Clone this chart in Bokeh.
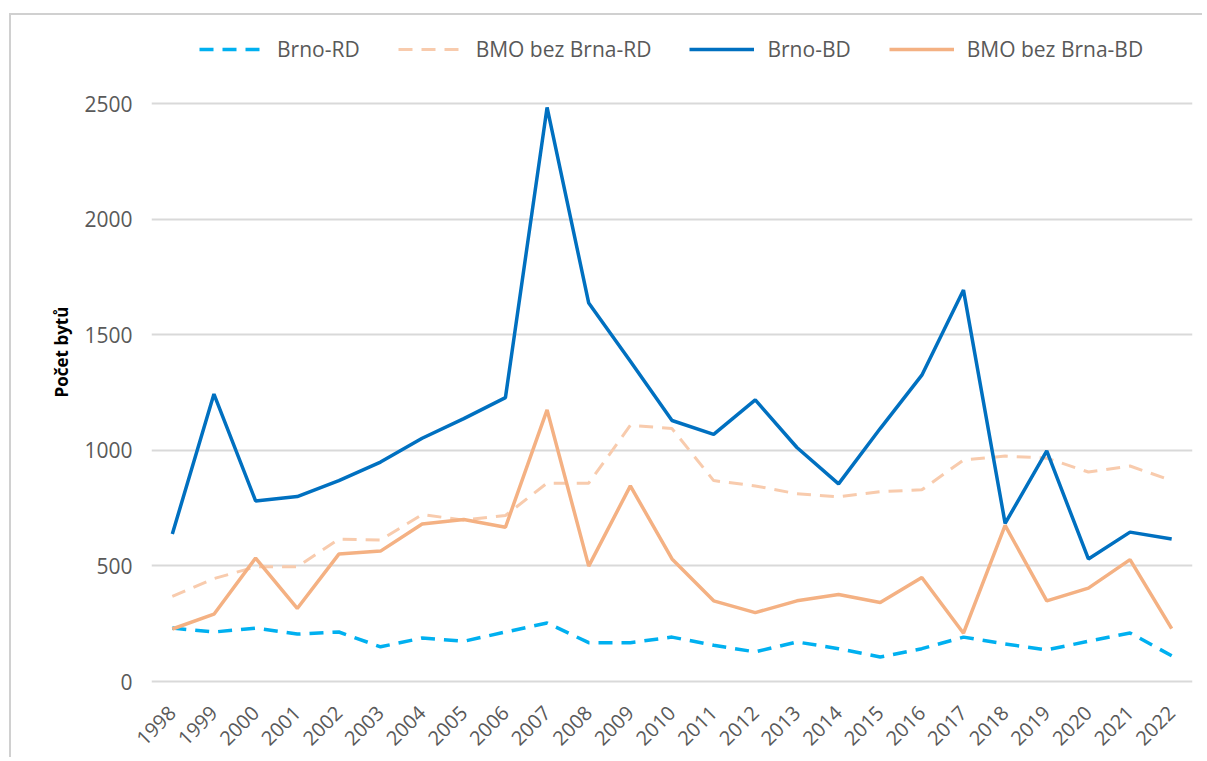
from bokeh.plotting import figure
from bokeh.models import Range1d, FixedTicker, Legend, LegendItem
from bokeh.embed import file_html
from bokeh.resources import INLINE

years = list(range(1998, 2023))
brno_rd = [231, 214, 231, 205, 214, 150, 188, 174, 214, 253, 168,
           168, 192, 157, 128, 171, 142, 106, 142, 192, 162, 137, 174, 210, 111]
bmo_rd = [368, 445, 496, 496, 616, 612, 722, 698, 718, 858, 858,
          1108, 1094, 869, 846, 812, 799, 821, 829, 958, 975, 966, 906, 932, 869]
brno_bd = [638, 1243, 781, 800, 869, 949, 1052, 1137, 1228, 2483, 1637,
           1385, 1129, 1069, 1218, 1012, 855, 1094, 1325, 1693, 684, 997, 530, 646, 616]
bmo_bd = [227, 291, 534, 316, 551, 564, 681, 701, 667, 1175, 499,
          846, 530, 349, 298, 349, 376, 342, 450, 209, 675, 349, 404, 527, 229]
y_ticks = [0, 500, 1000, 1500, 2000, 2500]
labels = ["Brno-RD", "BMO bez Brna-RD", "Brno-BD", "BMO bez Brna-BD"]

FONT = "Open Sans"
upp = 2500 / 578  # value units per pixel
y_start = -2 * upp
y_end = 661 * upp  # frame extends up to the legend area

p = figure(width=1193, height=744, output_backend="svg", toolbar_location=None,
           x_range=Range1d(1997.5, 2022.5), y_range=Range1d(y_start, y_end),
           min_border_left=140, min_border_right=12, min_border_top=5, min_border_bottom=76)
p.styles = {"margin-left": "9px", "margin-top": "13px",
            "border-left": "2px solid #d0d0d0", "border-top": "2px solid #d0d0d0"}
p.outline_line_color = None
p.background_fill_color = "white"
p.border_fill_color = "white"

p.xgrid.grid_line_color = None
p.ygrid.grid_line_color = "#d9d9d9"
p.ygrid.grid_line_width = 2
p.yaxis.ticker = FixedTicker(ticks=y_ticks)
p.xaxis.ticker = FixedTicker(ticks=years)

for ax in (p.xaxis[0], p.yaxis[0]):
    ax.axis_line_color = None
    ax.major_tick_line_color = None
    ax.minor_tick_line_color = None
    ax.major_label_text_font = FONT
    ax.major_label_text_color = "#595959"

p.yaxis.major_label_text_font_size = "21px"
p.xaxis.major_label_text_font_size = "20px"
p.yaxis.major_label_standoff = 13
p.xaxis.major_label_standoff = 20
p.xaxis.major_label_orientation = 0.785
p.yaxis.axis_label = "Počet bytů"
p.yaxis.axis_label_text_font = FONT
p.yaxis.axis_label_text_font_style = "bold"
p.yaxis.axis_label_text_font_size = "17px"
p.yaxis.axis_label_text_color = "black"
p.yaxis.axis_label_standoff = 8

r1 = p.line(years, brno_rd, line_color="#00B0F0", line_width=3.5, line_dash="14 9")
r2 = p.line(years, bmo_rd, line_color="#F8CBAD", line_width=3, line_dash="14 9")
r3 = p.line(years, brno_bd, line_color="#0070C0", line_width=3.5)
r4 = p.line(years, bmo_bd, line_color="#F4B183", line_width=3.5)

legend = Legend(items=[LegendItem(label=l, renderers=[r]) for l, r in zip(labels, [r1, r2, r3, r4])],
                orientation="horizontal", location=(48, 620), padding=0, margin=0,
                spacing=38, glyph_width=65, glyph_height=20, label_height=20,
                label_standoff=13, label_text_font=FONT, label_text_font_size="21px",
                label_text_color="#595959", border_line_color=None,
                background_fill_alpha=0)
p.add_layout(legend, "center")

open("out.html", "w").write(file_html(p, INLINE))
